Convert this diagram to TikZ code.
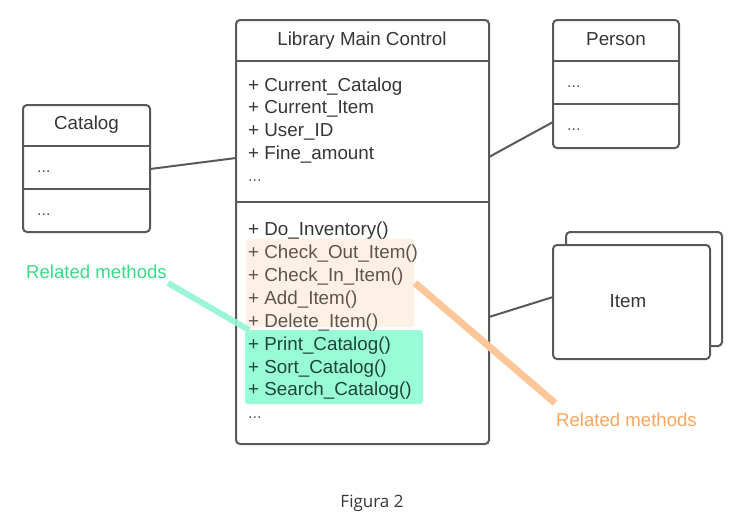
\documentclass[tikz,border=0pt]{standalone}
\usepackage{fontspec}
\setmainfont{Liberation Sans}
\newfontfamily\captionfont{Open Sans}
\usetikzlibrary{calc}

\definecolor{edge}{HTML}{595959}
\definecolor{ink}{HTML}{363636}
\definecolor{dotink}{HTML}{555555}
\definecolor{peach}{HTML}{FDF1E6}
\definecolor{peachink}{HTML}{5E544C}
\definecolor{mint}{HTML}{98FCD6}
\definecolor{mintink}{HTML}{1F4538}
\definecolor{mintline}{HTML}{92F5D0}
\definecolor{greenlabel}{HTML}{3ADB86}
\definecolor{orangeline}{HTML}{FEC79A}
\definecolor{orangelabel}{HTML}{FBA55E}

\tikzset{
  umlbox/.style={draw=edge, line width=2pt, rounded corners=4pt, fill=white,
                 inner sep=0pt, outer sep=0pt},
  divider/.style={draw=edge, line width=2pt},
  link/.style={draw=edge, line width=2pt},
  member/.style={anchor=base west, inner sep=0pt, text=ink,
                 font=\fontsize{18.8pt}{22pt}\selectfont},
  title/.style={anchor=base, inner sep=0pt, text=ink,
                font=\fontsize{18.8pt}{22pt}\selectfont},
  dots/.style={anchor=base west, inner sep=0pt, text=dotink,
               font=\fontsize{16pt}{20pt}\selectfont},
  band/.style={rounded corners=3pt, inner sep=0pt, outer sep=0pt},
  note/.style={anchor=base west, inner sep=0pt,
               font=\fontsize{18.6pt}{22pt}\selectfont},
}

\begin{document}
\begin{tikzpicture}[x=1pt, y=-1pt]
\useasboundingbox[fill=white] (0,0) rectangle (750,515);

% ---------- Library Main Control ----------
\node[umlbox, minimum width=253pt, minimum height=424pt] (main) at (362.5,232) {};
\draw[divider] (236,61) -- (489,61);
\draw[divider] (236,202) -- (489,202);
\node[title] (mainT) at (362,45) {Library Main Control};

\node[member] (a1) at (248,91) {+ Current\_Catalog};
\node[member] (a2) at (248,113.7) {+ Current\_Item};
\node[member] (a3) at (248,136.4) {+ User\_ID};
\node[member] (a4) at (248,159) {+ Fine\_amount};
\node[dots]   (a5) at (248,181) {...};

% highlighted method groups
\node[band, fill=peach, minimum width=168pt, minimum height=88pt] (grpA) at (330,283) {};
\node[band, fill=mint, minimum width=178pt, minimum height=74pt] (grpB) at (334,367) {};

\node[member] (m1) at (248,235) {+ Do\_Inventory()};
\node[member, text=peachink] (m2) at (248,258) {+ Check\_Out\_Item()};
\node[member, text=peachink] (m3) at (248,281) {+ Check\_In\_Item()};
\node[member, text=peachink] (m4) at (248,304) {+ Add\_Item()};
\node[member, text=peachink] (m5) at (248,327) {+ Delete\_Item()};
\node[member, text=mintink] (m6) at (248,350) {+ Print\_Catalog()};
\node[member, text=mintink] (m7) at (248,373) {+ Sort\_Catalog()};
\node[member, text=mintink] (m8) at (248,395.5) {+ Search\_Catalog()};
\node[dots]   (m9) at (248,418) {...};

% ---------- Catalog ----------
\node[umlbox, minimum width=127pt, minimum height=127pt] (catalog) at (86.5,168.5) {};
\draw[divider] (23,146) -- (150,146);
\draw[divider] (23,189) -- (150,189);
\node[title] (catalogT) at (86.5,129) {Catalog};
\node[dots] (c1) at (37,172) {...};
\node[dots] (c2) at (37,215) {...};

% ---------- Person ----------
\node[umlbox, minimum width=126pt, minimum height=128pt] (person) at (616,84) {};
\draw[divider] (553,61) -- (679,61);
\draw[divider] (553,104) -- (679,104);
\node[title] (personT) at (616,45) {Person};
\node[dots] (p1) at (567,87) {...};
\node[dots] (p2) at (567,130) {...};

% ---------- Item (stacked) ----------
\node[umlbox, minimum width=156pt, minimum height=114pt] (itemback) at (644,289) {};
\node[umlbox, minimum width=157pt, minimum height=114pt] (item) at (631.5,302) {};
\node[title] (itemT) at (628,307) {Item};

% ---------- associations ----------
\coordinate (catR)   at (catalog.east |- 0,169);
\coordinate (mainL)  at (main.west |- 0,158);
\coordinate (mainR1) at (main.east |- 0,157);
\coordinate (perL)   at (person.west |- 0,122);
\coordinate (mainR2) at (main.east |- 0,317);
\coordinate (itemL)  at (item.west |- 0,297);
\draw[link] (catR) -- (mainL);
\draw[link] (mainR1) -- (perL);
\draw[link] (mainR2) -- (itemL);

% ---------- annotations ----------
\node[note, text=greenlabel] (noteG) at (26,278) {Related methods};
\coordinate (gTail) at (168,283);
\coordinate (gHead) at (249,330);
\draw[mintline, line width=6pt, opacity=0.9] (gTail) -- (gHead);

\node[note, text=orangelabel] (noteO) at (556,426) {Related methods};
\coordinate (oHead) at (415,283);
\coordinate (oTail) at (555,403);
\draw[orangeline, line width=7pt] (oHead) -- (oTail);

\node[anchor=base, inner sep=0pt, text=ink, font=\captionfont\fontsize{17pt}{20pt}\selectfont]
  (caption) at (372,507) {Figura 2};
\end{tikzpicture}
\end{document}
